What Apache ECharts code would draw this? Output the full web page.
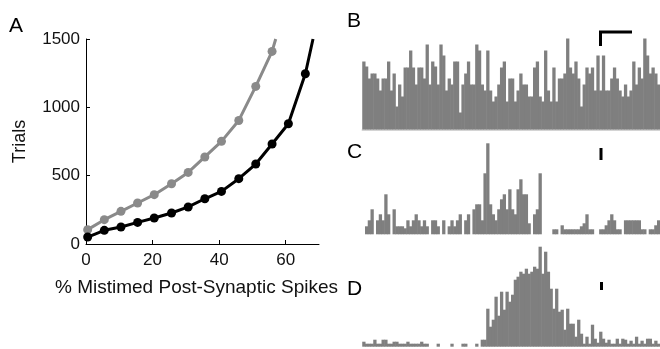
<!DOCTYPE html>
<html><head><meta charset="utf-8">
<script src="https://cdn.jsdelivr.net/npm/echarts@6/dist/echarts.min.js"></script>
<style>html,body{margin:0;padding:0;background:#fff}#c{width:660px;height:349px}</style>
</head><body><div id="c"></div>
<script>
// Panel A: trials needed vs % mistimed post-synaptic spikes
const xBlack = [0.5, 5.5, 10.5, 15.5, 20.5, 25.7, 30.7, 35.7, 40.7, 45.9, 51, 55.9, 60.8, 65.9, 68.2];
const yBlack = [51, 100, 124, 158, 190, 227, 271, 331, 385, 478, 585, 732, 880, 1246, 1500];
const xGray = [0.5, 5.5, 10.5, 15.5, 20.5, 25.7, 30.7, 35.7, 40.7, 45.9, 51, 55.9, 57];
const yGray = [105, 178, 239, 300, 361, 441, 524, 637, 751, 904, 1153, 1409, 1500];
const xTicksA = [0, 20, 40, 60];
const yTicksA = [0, 500, 1000, 1500];
// Panels B, C, D: histogram counts
const histB = [68,63,51,56,56,51,39,51,51,68,39,56,23,45,33,62,62,79,62,45,62,62,51,85,45,68,63,45,85,74,39,51,45,68,68,17,45,56,68,45,45,85,79,45,39,79,39,28,33,45,62,
  68,28,51,51,28,39,56,45,45,33,33,62,68,33,28,79,39,28,62,28,51,51,56,91,62,56,68,51,23,45,62,56,62,39,74,39,74,39,39,51,62,51,39,33,45,33,39,68,45,62,51,91,74,56,62,56,45];
const histC = [0,8,14,25,0,14,20,14,40,20,0,25,8,8,8,6,14,8,14,20,14,8,14,8,0,14,14,8,0,14,0,8,14,8,14,20,0,14,20,0,25,30,
  30,14,61,91,30,20,14,25,35,40,25,45,25,20,45,55,40,40,11,0,20,25,61,
  0,0,0,0,5,5,0,9,5,5,5,5,5,5,8,11,20,5,5,0,0,5,5,9,14,20,14,5,5,0,14,14,14,14,14,14,5,5,0,5,5,9,14];
const histD = [5,3,3,3,7,3,3,7,7,3,3,5,5,3,3,3,5,3,3,3,3,5,3,3,0,0,0,3,0,0,0,0,3,0,0,0,3,3,0,0,0,3,0,7,7,
  38,20,27,50,31,55,37,55,45,52,67,70,75,73,78,73,75,80,78,100,73,95,75,58,38,58,35,37,17,38,23,23,10,27,13,3,10,3,22,8,4,15,8,4,7,3,3,8,3,8,7,3,6,3,10,3,6,3,8,8,3,6,3];
const panelLabels = ['A', 'B', 'C', 'D'];

const FONT = 'Liberation Sans, Arial, Helvetica, sans-serif';
const BAR = '#7f7f7f';
const chart = echarts.init(document.getElementById('c'), null, {renderer: 'canvas'});
const pairs = (xs, ys) => xs.map((x, i) => {
  const last = i === xs.length - 1 && ys[i] >= 1500;
  return last ? {value: [x, ys[i]], symbolSize: 0} : [x, ys[i]];
});
const idx = a => a.map((_, i) => i);
const histGrid = (top, h) => ({left: 362.5, top: top, width: 297.5, height: h});
const histX = (gi, data, line) => ({
  type: 'category', gridIndex: gi, data: idx(data), boundaryGap: true,
  axisLine: {show: line, lineStyle: {color: '#d4d4d4', width: 2}},
  axisTick: {show: false}, axisLabel: {show: false}, splitLine: {show: false}
});
const histY = (gi, max) => ({type: 'value', gridIndex: gi, min: 0, max: max, show: false, splitLine: {show: false}});
const histS = (gi, data) => ({
  type: 'bar', xAxisIndex: gi, yAxisIndex: gi, data: data, barWidth: 3.3,
  itemStyle: {color: BAR}, silent: true, animation: false, clip: false
});

chart.setOption({
  animation: false,
  grid: [
    {left: 86, top: 39, width: 233, height: 205},
    histGrid(34.5, 95),
    histGrid(139.3, 95),
    histGrid(241.7, 105)
  ],
  xAxis: [
    {type: 'value', gridIndex: 0, min: 0, max: 70,
     name: '% Mistimed Post-Synaptic Spikes', nameLocation: 'middle', nameGap: 34,
     nameTextStyle: {fontFamily: FONT, fontSize: 19, color: '#111', padding: [0, 12, 0, 0]},
     axisLine: {lineStyle: {color: '#000', width: 1}},
     axisTick: {inside: true, length: 4, customValues: xTicksA, lineStyle: {color: '#000'}},
     axisLabel: {customValues: xTicksA, fontFamily: FONT, fontSize: 17, color: '#111', margin: 8,
                 formatter: v => String(v)},
     splitLine: {show: false}},
    histX(1, histB, true),
    histX(2, histC, false),
    histX(3, histD, false)
  ],
  yAxis: [
    {type: 'value', gridIndex: 0, min: 0, max: 1500,
     name: 'Trials', nameLocation: 'middle', nameGap: 57, nameRotate: 90,
     nameTextStyle: {fontFamily: FONT, fontSize: 18, color: '#111'},
     axisLine: {show: true, lineStyle: {color: '#000', width: 1}},
     axisTick: {show: true, inside: true, length: 4, customValues: yTicksA, lineStyle: {color: '#000'}},
     axisLabel: {customValues: yTicksA, fontFamily: FONT, fontSize: 17, color: '#111', margin: 6,
                 formatter: v => String(v)},
     splitLine: {show: false}},
    histY(1, 95),
    histY(2, 95),
    histY(3, 105)
  ],
  series: [
    {type: 'line', xAxisIndex: 0, yAxisIndex: 0, data: pairs(xGray, yGray),
     symbol: 'circle', symbolSize: 9, lineStyle: {color: '#8a8a8a', width: 3},
     itemStyle: {color: '#8a8a8a'}, clip: true, z: 3},
    {type: 'line', xAxisIndex: 0, yAxisIndex: 0, data: pairs(xBlack, yBlack),
     symbol: 'circle', symbolSize: 9, lineStyle: {color: '#000', width: 3},
     itemStyle: {color: '#000'}, clip: true, z: 4},
    histS(1, histB),
    histS(2, histC),
    histS(3, histD)
  ],
  graphic: [
    {type: 'text', left: 9, top: 16, style: {text: panelLabels[0], font: '21px ' + FONT, fill: '#000'}},
    {type: 'text', left: 347, top: 11, style: {text: panelLabels[1], font: '21px ' + FONT, fill: '#000'}},
    {type: 'text', left: 347, top: 142, style: {text: panelLabels[2], font: '21px ' + FONT, fill: '#000'}},
    {type: 'text', left: 347, top: 279, style: {text: panelLabels[3], font: '21px ' + FONT, fill: '#000'}},
    {type: 'polyline', shape: {points: [[600.5, 46], [600.5, 32], [632, 32]]}, style: {stroke: '#000', lineWidth: 3, fill: null}},
    {type: 'rect', shape: {x: 599.5, y: 148, width: 3, height: 12}, style: {fill: '#000'}},
    {type: 'rect', shape: {x: 600, y: 282, width: 3, height: 8}, style: {fill: '#000'}}
  ]
});
</script></body></html>
